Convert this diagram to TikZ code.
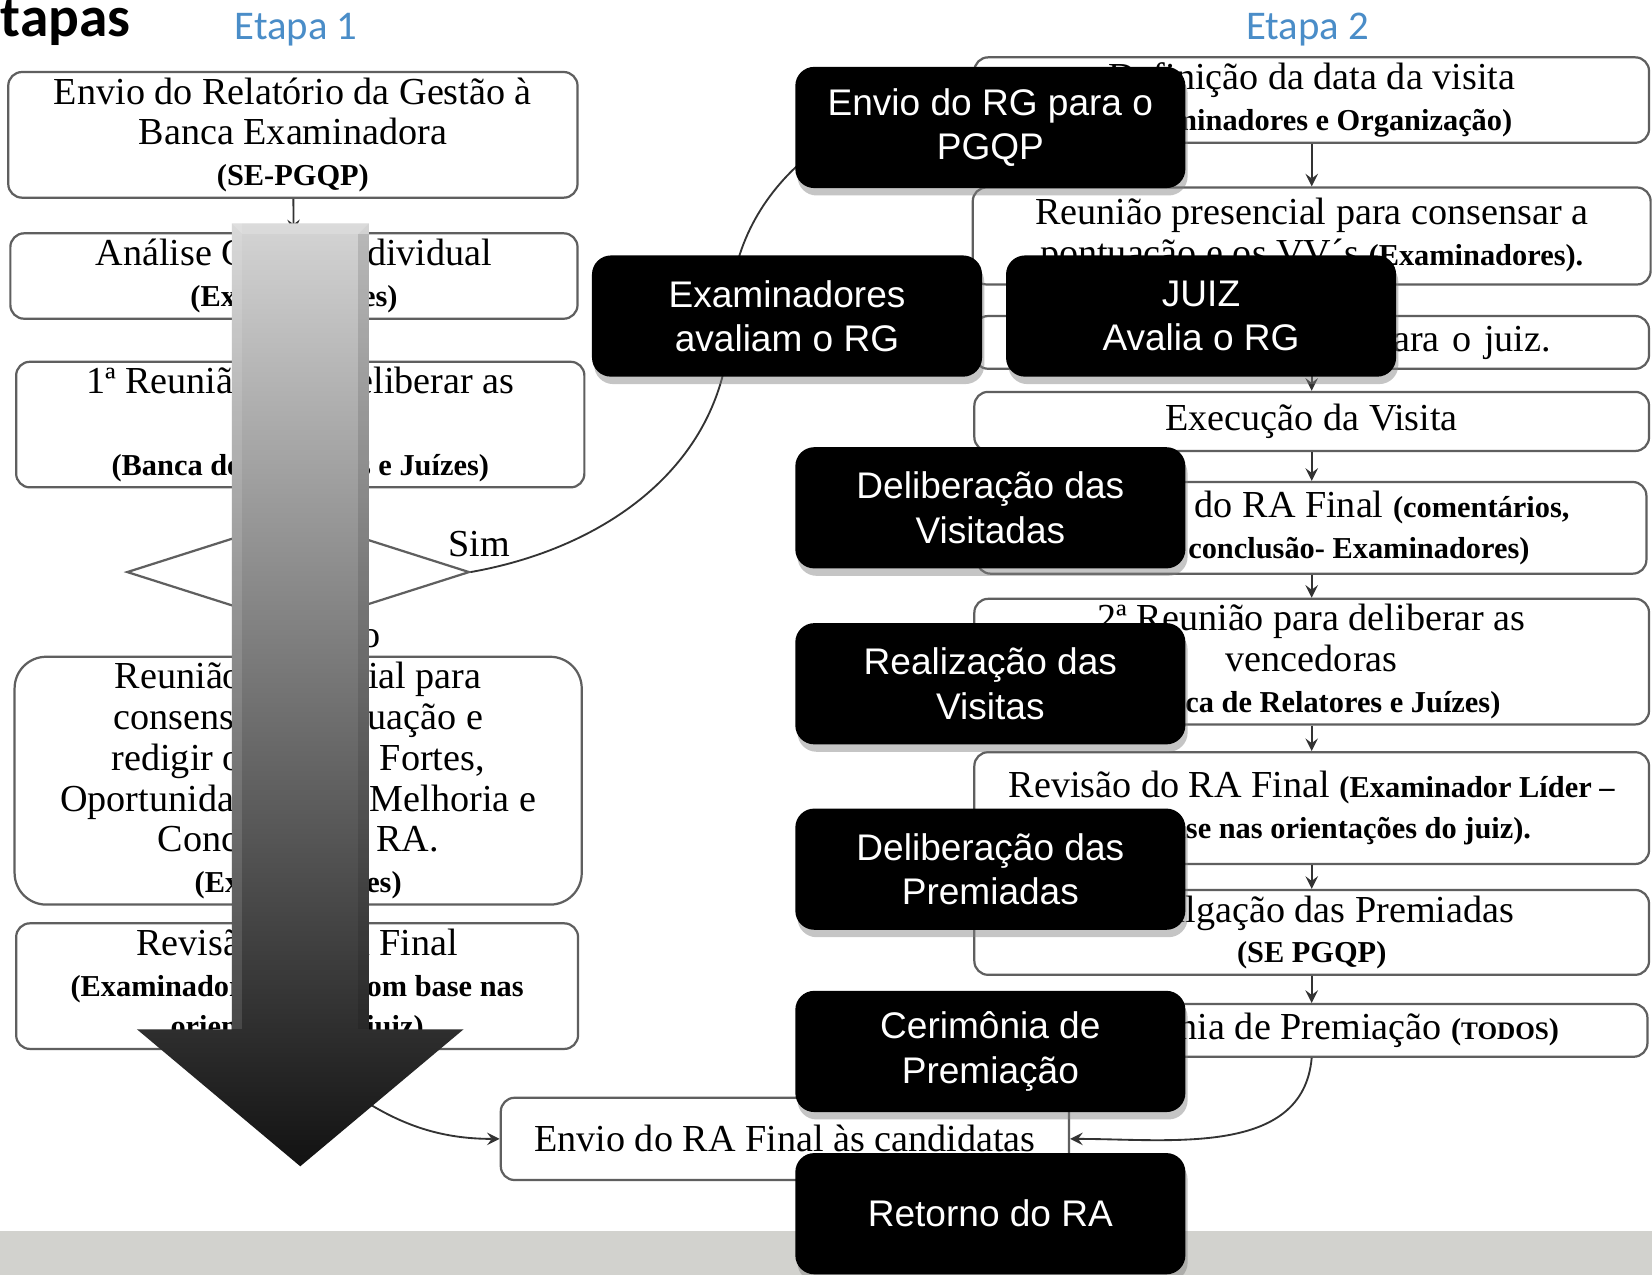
\documentclass[tikz,border=0pt]{standalone}
\usepackage{fontspec}
\setmainfont{Liberation Serif}
\setsansfont{Liberation Sans}
\newfontfamily\calibrifont{Carlito}
\usetikzlibrary{shapes.geometric,shadows}

\definecolor{etapablue}{RGB}{74,141,200}
\definecolor{boxline}{RGB}{95,95,95}
\definecolor{bandgray}{RGB}{210,210,206}
\definecolor{arrowtop}{RGB}{212,212,212}
\definecolor{arrowmid}{RGB}{130,130,130}
\definecolor{arrowbot}{RGB}{18,18,18}

\newcommand{\flowfont}{\fontsize{10.3}{11}\selectfont}
\newcommand{\subtxt}[1]{{\bfseries\fontsize{8.2}{10}\selectfont #1}}

\tikzset{
    flowbox/.style={draw=boxline, line width=0.6pt, fill=white, rounded corners=0.13cm, align=center, font=\flowfont, inner sep=1.5pt},
    blackbox/.style={fill=black, rounded corners=0.18cm, text=white, align=center, minimum width=3.7cm, minimum height=1.15cm, font=\sffamily\fontsize{10}{12}\selectfont, drop shadow={shadow xshift=0.6pt, shadow yshift=-2pt, opacity=0.45}},
    flowarrow/.style={-stealth, draw=black!80, line width=0.5pt},
    etapa/.style={font=\calibrifont\fontsize{11}{13}\selectfont, text=etapablue}
}

\begin{document}
\begin{tikzpicture}[x=0.01cm, y=-0.01cm]
    \useasboundingbox (0,0) rectangle (1568,1210);
    \fill[white] (0,0) rectangle (1568,1210);
    \fill[bandgray] (0,1168) rectangle (1568,1210);

    \node[anchor=base west, inner sep=0, font=\calibrifont\bfseries\fontsize{15.5}{18}\selectfont] (title) at (0,35) {tapas};
    \node[etapa] (etapa1) at (281,28) {Etapa 1};
    \node[etapa] (etapa2) at (1241,28) {Etapa 2};

    \node[flowbox, minimum width=5.4cm, minimum height=1.17cm] (envio) at (278,128) {Envio do Relatório da Gestão à\\Banca Examinadora\\\subtxt{(SE-PGQP)}};
    \node[flowbox, minimum width=5.38cm, minimum height=0.81cm] (analise) at (279,262) {Análise Crítica Individual\\\subtxt{(Examinadores)}};
    \node[flowbox, minimum width=5.39cm, minimum height=1.1cm] (reuniao1) at (285,403) {1ª Reunião para deliberar as\\visitadas\\\subtxt{(Banca de Relatores e Juízes)}};
    \node[draw=boxline, line width=0.6pt, diamond, minimum width=3.25cm, minimum height=1.04cm, inner sep=0] (decisao) at (283,543) {};
    \node[flowbox, rounded corners=0.3cm, minimum width=5.38cm, minimum height=2.31cm] (consenso) at (283,741) {Reunião presencial para\\consensar a pontuação e\\redigir os Pontos Fortes,\\Oportunidades para Melhoria e\\Conclusão do RA.\\\subtxt{(Examinadores)}};
    \node[flowbox, minimum width=5.33cm, minimum height=1.09cm] (revisao1) at (282,936) {Revisão do RA Final\\\subtxt{(Examinador Líder – com base nas}\\\subtxt{orientações do juiz)}};

    \node[flowbox, minimum width=6.4cm, minimum height=0.74cm] (definicao) at (1245,95) {Definição da data da visita\\\subtxt{(Examinadores e Organização)}};
    \node[flowbox, minimum width=6.43cm, minimum height=0.92cm] (consenso2) at (1245,224) {Reunião presencial para consensar a\\pontuação e os VV´s \subtxt{(Examinadores).}};
    \node[flowbox, minimum width=6.4cm, minimum height=0.5cm, text width=4.54cm, align=right] (enviojuiz) at (1245,325) {Envio do RA para o juiz.};
    \node[flowbox, minimum width=6.4cm, minimum height=0.56cm] (execucao) at (1245,400) {Execução da Visita};
    \node[flowbox, minimum width=6.35cm, minimum height=0.87cm] (redacao) at (1245,501) {Redação do RA Final \subtxt{(comentários,}\\\subtxt{VV´s e conclusão- Examinadores)}};
    \node[flowbox, minimum width=6.4cm, minimum height=1.13cm] (reuniao2) at (1245,628) {2ª Reunião para deliberar as\\vencedoras\\\subtxt{(Banca de Relatores e Juízes)}};
    \node[flowbox, minimum width=6.4cm, minimum height=1.06cm] (revisao2) at (1245,767) {Revisão do RA Final \subtxt{(Examinador Líder –}\\\subtxt{com base nas orientações do juiz).}};
    \node[flowbox, minimum width=6.4cm, minimum height=0.8cm] (divulgacao) at (1245,885) {Divulgação das Premiadas\\\subtxt{(SE PGQP)}};
    \node[flowbox, minimum width=6.37cm, minimum height=0.5cm] (cerimonia) at (1245,978) {Cerimônia de Premiação \subtxt{({\fontsize{6.8}{8}\selectfont TODOS})}};
    \node[flowbox, minimum width=5.39cm, minimum height=0.78cm] (final) at (745,1081) {Envio do RA Final às candidatas};

    \draw[flowarrow] (envio) -- (analise);
    \draw[flowarrow] (analise) -- (reuniao1);
    \draw[flowarrow] (reuniao1) -- (decisao);
    \draw[flowarrow] (decisao) -- node[pos=0.25, anchor=west, xshift=0.17cm, inner sep=0, font=\flowfont] {Não} (consenso);
    \draw[flowarrow] (consenso) -- (revisao1);
    \draw[flowarrow] (revisao1.south) to[out=-40, in=180] (final.west);
    \coordinate (simbend) at (693,300);
    \draw[flowarrow] (decisao.east) to[out=10, in=-90] node[pos=0.02, above, font=\flowfont] {Sim} (simbend) to[out=90, in=180] (definicao.west);
    \foreach \a/\b in {definicao/consenso2, consenso2/enviojuiz, enviojuiz/execucao, execucao/redacao, redacao/reuniao2, reuniao2/revisao2, revisao2/divulgacao, divulgacao/cerimonia}
        \draw[flowarrow] (\a) -- (\b);
    \draw[flowarrow] (cerimonia.south) to[out=-95, in=0] (final.east);

    \shade[top color=arrowtop, middle color=arrowmid, bottom color=arrowbot] (220,212) -- (350,212) -- (350,977) -- (440,977) -- (285,1107) -- (130,977) -- (220,977) -- cycle;
    \fill[white, opacity=0.18] (220,212) -- (350,212) -- (340,222) -- (230,222) -- cycle;
    \fill[white, opacity=0.12] (220,212) rectangle (230,977);
    \fill[black, opacity=0.12] (340,222) rectangle (350,977);

    \node[blackbox] (rgpgqp) at (940,121) {Envio do RG para o\\PGQP};
    \node[blackbox] (examinadores) at (747,300) {Examinadores\\avaliam o RG};
    \node[blackbox] (juiz) at (1140,300) {JUIZ\\Avalia o RG};
    \node[blackbox] (delibvisitadas) at (940,482) {Deliberação das\\Visitadas};
    \node[blackbox] (realizacao) at (940,649) {Realização das\\Visitas};
    \node[blackbox] (delibpremiadas) at (940,825) {Deliberação das\\Premiadas};
    \node[blackbox] (premiacao) at (940,998) {Cerimônia de\\Premiação};
    \node[blackbox] (retorno) at (940,1152) {Retorno do RA};
\end{tikzpicture}
\end{document}
